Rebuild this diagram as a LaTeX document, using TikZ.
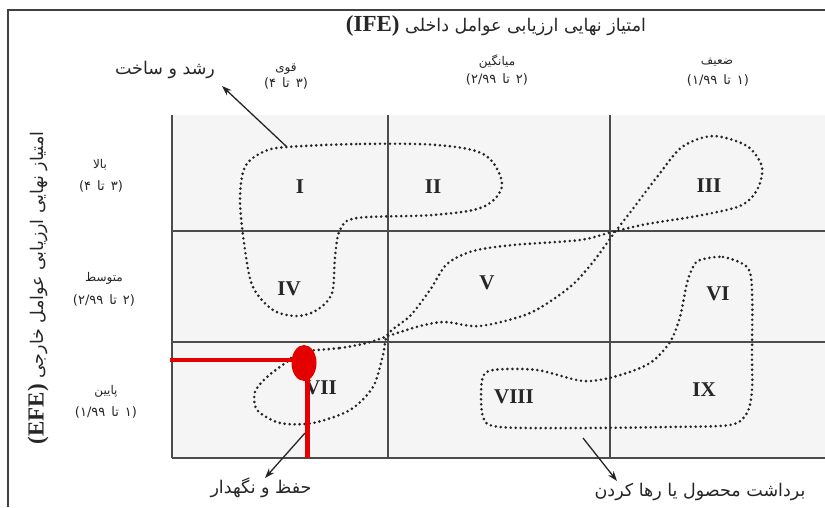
\documentclass[tikz,border=0pt]{standalone}
\usepackage{fontspec}
\setmainfont{Liberation Serif}
\newfontfamily\fa[Script=Arabic]{DejaVu Sans}
\TeXXeTstate=1
\usetikzlibrary{arrows.meta}
\newcommand{\gp}{\hspace{6pt}}
\begin{document}
\begin{tikzpicture}[x=1pt,y=-1pt,
  gridline/.style={draw=black!70, line width=1.3pt},
  dotline/.style={draw=black!85, line width=2.9pt, line cap=round, dash pattern=on 0pt off 5pt},
  roman/.style={font=\bfseries\fontsize{21}{24}\selectfont, text=black!85},
  fatitle/.style={font=\fa\fontsize{17.5}{20}\selectfont, text=black!85, inner sep=0pt},
  fahead/.style={font=\fa\fontsize{12}{14}\selectfont, text=black!85, inner sep=0pt},
  fanum/.style={font=\fa\fontsize{13}{15}\selectfont, text=black!85, inner sep=0pt},
  falabel/.style={font=\fa\fontsize{17.5}{20}\selectfont, text=black!85, inner sep=0pt},
  arr/.style={draw=black!85, line width=1.3pt, -{Stealth[length=10pt,width=7pt]}},
  redline/.style={draw=red!90!black, line cap=butt}
]
\useasboundingbox (0,0) rectangle (825,507);
\fill[white] (0,0) rectangle (825,507);
% stippled matrix background
\fill[black!4] (172,115) rectangle (825,458);
% outer frame
\draw[draw=black!75, line width=1.6pt] (8,507) -- (8,10) -- (825,10);
% grid
\draw[gridline] (172,115) -- (172,458);
\draw[gridline] (388,115) -- (388,458);
\draw[gridline] (610,115) -- (610,458);
\draw[gridline] (172,231) -- (825,231);
\draw[gridline] (172,342) -- (825,342);
\draw[gridline] (172,458) -- (825,458);

% titles
\node[fatitle] (ife) at (496,26) {\beginR امتیاز نهایی ارزیابی عوامل داخلی \beginL{\rmfamily\bfseries\fontsize{23}{26}\selectfont (IFE)}\endL\endR};
\node[fatitle, rotate=90] (efe) at (38,288) {\beginR امتیاز نهایی ارزیابی عوامل خارجی \beginL{\rmfamily\bfseries\fontsize{23}{26}\selectfont (EFE)}\endL\endR};

% column headers
\node[fahead] (c1) at (286,69) {\beginR قوی\endR};
\node[fanum]  (c1n) at (286,83) {\beginR (۳\gp تا\gp ۴)\endR};
\node[fahead] (c2) at (497,62) {\beginR میانگین\endR};
\node[fanum]  (c2n) at (497,79) {\beginR (۲\gp تا\gp ۲/۹۹)\endR};
\node[fahead] (c3) at (717,62) {\beginR ضعیف\endR};
\node[fanum]  (c3n) at (718,80) {\beginR (۱\gp تا\gp ۱/۹۹)\endR};

% row headers
\node[fahead] (r1) at (100,165) {\beginR بالا\endR};
\node[fanum]  (r1n) at (101,186) {\beginR (۳\gp تا\gp ۴)\endR};
\node[fahead] (r2) at (104,278) {\beginR متوسط\endR};
\node[fanum]  (r2n) at (104,300) {\beginR (۲\gp تا\gp ۲/۹۹)\endR};
\node[fahead] (r3) at (106,391) {\beginR پایین\endR};
\node[fanum]  (r3n) at (106,412) {\beginR (۱\gp تا\gp ۱/۹۹)\endR};

% cell numerals
\node[roman] (n1) at (300,187) {I};
\node[roman] (n2) at (433,187) {II};
\node[roman] (n3) at (709,186) {III};
\node[roman] (n4) at (289,289) {IV};
\node[roman] (n5) at (487,283) {V};
\node[roman] (n6) at (718,294) {VI};
\node[roman] (n7) at (321,388) {VII};
\node[roman] (n8) at (514,397) {VIII};
\node[roman] (n9) at (704,390) {IX};

% dotted regions
\draw[dotline] plot[smooth cycle, tension=0.55] coordinates {
 (287,147) (360,144) (437,145) (485,155) (502,185) (483,207) (433,215) (357,218)
 (340,230) (335,257) (332,293) (317,310) (297,316) (273,310) (253,287) (245,250)
 (240,200) (245,167) (263,152)};
\draw[dotline] plot[smooth cycle, tension=0.5] coordinates {
 (300,352) (340,348) (367,343) (388,336) (420,326) (445,322) (480,326) (530,313)
 (570,287) (593,262) (612,236) (632,210) (657,177) (682,147) (713,136) (747,146)
 (762,167) (757,190) (740,206) (697,216) (647,224) (612,232) (580,240) (513,245)
 (473,251) (447,264) (430,290) (410,316) (388,334) (383,355) (373,387) (350,410)
 (313,423) (280,423) (257,410) (255,392) (267,377) (288,361)};
\draw[dotline] plot[smooth cycle, tension=0.5] coordinates {
 (700,260) (723,257) (747,267) (752,290) (752,357) (752,390) (747,413) (730,425)
 (667,427) (583,428) (500,427) (483,417) (482,380) (493,370) (537,370) (583,381)
 (617,376) (650,363) (670,342) (680,317) (687,283) (693,267)};

% red marker
\draw[redline, line width=4.5pt] (170,360) -- (300,360);
\draw[redline, line width=5pt] (307,362) -- (307,458);
\fill[red!90!black] (304,363) ellipse (12.5 and 18);

% outcome labels and arrows
\node[falabel] (grow) at (165,70) {\beginR رشد و ساخت\endR};
\node[falabel] (keep) at (261,488) {\beginR حفظ و نگهدار\endR};
\node[falabel] (harv) at (700,492) {\beginR برداشت محصول یا رها کردن\endR};
\coordinate (growtail) at (287,147);
\coordinate (growtip) at (222,86);
\coordinate (keeptail) at (305,433);
\coordinate (keeptip) at (265,478);
\coordinate (harvtail) at (583,438);
\coordinate (harvtip) at (617,481);
\draw[arr] (growtail) -- (growtip);
\draw[arr] (keeptail) -- (keeptip);
\draw[arr] (harvtail) -- (harvtip);
\end{tikzpicture}
\end{document}
